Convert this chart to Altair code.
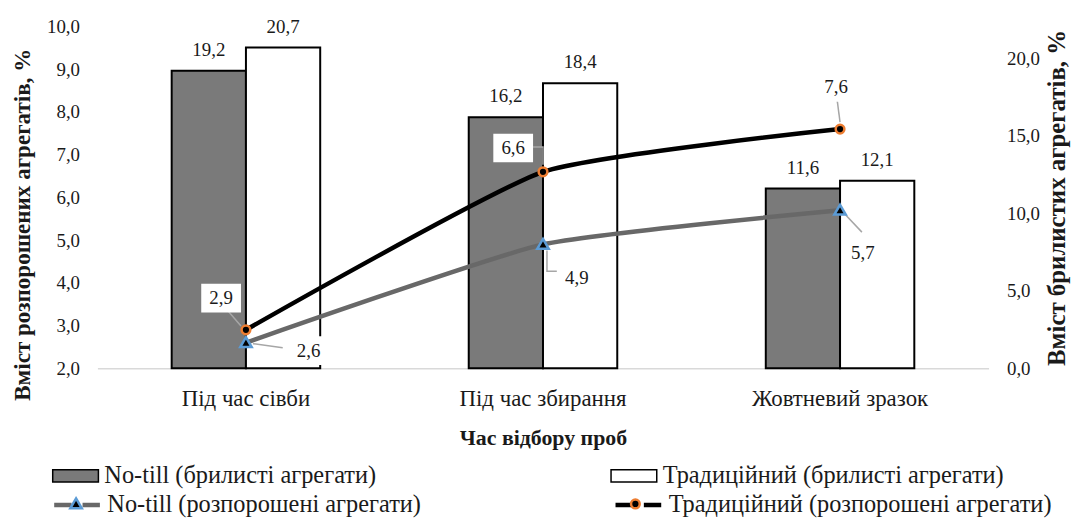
import altair as alt
import pandas as pd

# ---------------- data ----------------
categories = ["Під час сівби", "Під час збирання", "Жовтневий зразок"]
bar_series = ["No-till (брилисті агрегати)", "Традиційний (брилисті агрегати)"]
notill_clod = [19.2, 16.2, 11.6]
trad_clod = [20.7, 18.4, 12.1]
line_series = ["No-till (розпорошені агрегати)", "Традиційний (розпорошені агрегати)"]
notill_dust = [2.6, 4.9, 5.7]
trad_dust = [2.9, 6.6, 7.6]

left_ticks = [2, 3, 4, 5, 6, 7, 8, 9, 10]
right_ticks = [0, 5, 10, 15, 20]

# ---------------- layout (label placement offsets in px) ----------------
lbl_off = {
    line_series[0]: [(63, 8), (34, 34), (23, 43)],
    line_series[1]: [(-25, -32), (-30, -24), (-4, -42)],
}
leader_off = {
    line_series[0]: [[(7, 1), (37, 5)], [(4, 6), (4, 27), (14, 27)], [(5, 4), (22, 22)]],
    line_series[1]: [[(-18, -19), (-5, -4)], [(-10, -25), (0, -25), (0, -7)], [(-3, -30), (0, -7)]],
}

FONT = "Liberation Serif, Times New Roman, Liberation Sans, sans-serif"
TXT = "#1a1a1a"
ZW = "\u200b"

bars_df = pd.DataFrame(
    [{"cat": c, "series": bar_series[0], "value": v} for c, v in zip(categories, notill_clod)]
    + [{"cat": c, "series": bar_series[1], "value": v} for c, v in zip(categories, trad_clod)]
)
lines_df = pd.DataFrame(
    [{"cat": c, "series": line_series[0], "value": v} for c, v in zip(categories, notill_dust)]
    + [{"cat": c, "series": line_series[1], "value": v} for c, v in zip(categories, trad_dust)]
)
lines_df["series2"] = lines_df["series"] + ZW

lab_rows, lead_rows = [], []
for s, vals in zip(line_series, [notill_dust, trad_dust]):
    for i, (c, v) in enumerate(zip(categories, vals)):
        dx, dy = lbl_off[s][i]
        lab_rows.append({"cat": c, "series": s, "value": v, "dx": dx, "dy": dy})
        for k, (ox, oy) in enumerate(leader_off[s][i]):
            lead_rows.append({"cat": c, "series": s, "value": v, "lid": f"{s}-{i}", "k": k, "ox": ox, "oy": oy})
labels_df = pd.DataFrame(lab_rows)
leaders_df = pd.DataFrame(lead_rows)

fmt = "replace(format(datum.value, '.1f'), '.', ',')"

x_scale = alt.Scale(domain=categories, paddingInner=0, paddingOuter=0)
x_axis = alt.Axis(
    title="Час відбору проб", labelAngle=0, labelFont=FONT, labelFontSize=23, labelColor=TXT,
    labelPadding=19, ticks=False, tickSize=0, domainColor="#d9d9d9", domainWidth=1.5, grid=False,
    titleFont=FONT, titleFontSize=22, titleFontWeight="bold", titleColor=TXT,
    titleY=70, titleBaseline="middle",
)
x_enc = alt.X("cat:N", sort=categories, scale=x_scale, axis=x_axis)

yR_scale = alt.Scale(domain=[0, 22.05], nice=False, zero=True)
yL_scale = alt.Scale(domain=[2, 10], nice=False, zero=False)
xo_scale = alt.Scale(domain=bar_series, paddingInner=0, paddingOuter=1)

right_axis = alt.Axis(
    orient="right", values=right_ticks, labelExpr=fmt, domain=False, ticks=False, grid=False,
    labelFont=FONT, labelFontSize=19, labelColor=TXT, labelPadding=18,
    title="Вміст брилистих агрегатів, %", titleFont=FONT, titleFontSize=25, titleFontWeight="bold",
    titleColor=TXT, titleAngle=270, titleX=68, titleY=172, titleAlign="center", titleBaseline="middle",
)
left_axis = alt.Axis(
    orient="left", values=left_ticks, labelExpr=fmt, domain=False, ticks=False, grid=False,
    labelFont=FONT, labelFontSize=19, labelColor=TXT, labelPadding=18,
    title="Вміст розпорошених агрегатів, %", titleFont=FONT, titleFontSize=23.2, titleFontWeight="bold",
    titleColor=TXT, titleAngle=270, titleX=-75, titleY=199, titleAlign="center", titleBaseline="middle",
)

leg_common = dict(
    orient="none", direction="horizontal", title=None, padding=0,
    labelFont=FONT, labelFontSize=24.5, labelColor=TXT, labelLimit=800, labelOffset=5,
    symbolSize=2116,
)
legend_bars = alt.Legend(legendX=-46, legendY=428, columnPadding=233,
                         symbolType="M-1,-0.27H1V0.27H-1Z", symbolStrokeWidth=1.5, **leg_common)
legend_lines = alt.Legend(legendX=-46, legendY=456, columnPadding=186,
                          symbolType="M-1,0H-0.24M0.24,0H1", symbolStrokeWidth=4.5, **leg_common)
legend_marks = alt.Legend(legendX=-46, legendY=456, columnPadding=509, labelExpr="''",
                          symbolStrokeWidth=2.5, **leg_common)

tri = "M0,-0.24L0.25,0.19L-0.25,0.19Z"
circ = "M-0.19,0A0.19,0.19,0,1,0,0.19,0A0.19,0.19,0,1,0,-0.19,0Z"

# ---------------- bars (right axis) ----------------
bars = alt.Chart(bars_df).mark_bar(stroke="black", strokeWidth=2).encode(
    x=x_enc,
    xOffset=alt.XOffset("series:N", sort=bar_series, scale=xo_scale),
    y=alt.Y("value:Q", scale=yR_scale, axis=right_axis),
    fill=alt.Fill("series:N", scale=alt.Scale(domain=bar_series, range=["#7a7a7a", "#ffffff"]),
                  legend=legend_bars),
)
bar_text = alt.Chart(bars_df).transform_calculate(label=fmt).mark_text(
    font=FONT, fontSize=19, color=TXT, dy=-21, baseline="middle"
).encode(
    x=x_enc,
    xOffset=alt.XOffset("series:N", sort=bar_series, scale=xo_scale),
    y=alt.Y("value:Q", scale=yR_scale, axis=None),
    text="label:N",
)

# ---------------- lines (left axis) ----------------
lines = alt.Chart(lines_df).mark_line(strokeWidth=4.5, interpolate="cardinal", tension=0.5).encode(
    x=x_enc,
    y=alt.Y("value:Q", scale=yL_scale, axis=left_axis),
    stroke=alt.Stroke("series:N", scale=alt.Scale(domain=line_series, range=["#686868", "#000000"]),
                      legend=legend_lines),
)
leaders = alt.Chart(leaders_df).mark_line(
    strokeWidth=1.5, color="#a6a6a6",
    xOffset=alt.ExprRef(expr="datum.ox"), yOffset=alt.ExprRef(expr="datum.oy"),
).encode(
    x=x_enc,
    y=alt.Y("value:Q", scale=yL_scale, axis=None),
    detail="lid:N",
    order="k:O",
)
dom2 = [s + ZW for s in line_series]
points = alt.Chart(lines_df).mark_point(size=2116, filled=False, fill="black", strokeWidth=2.5, opacity=1).encode(
    x=x_enc,
    y=alt.Y("value:Q", scale=yL_scale, axis=None),
    color=alt.Color("series2:N", scale=alt.Scale(domain=dom2, range=["#5b9bd5", "#ed7d31"]),
                    legend=legend_marks),
    shape=alt.Shape("series2:N", scale=alt.Scale(domain=dom2, range=[tri, circ]),
                    legend=legend_marks),
)
boxes = alt.Chart(labels_df).mark_point(
    shape="M-1,-0.72H1V0.72H-1Z", size=1600, filled=True, color="white", opacity=1,
    xOffset=alt.ExprRef(expr="datum.dx"), yOffset=alt.ExprRef(expr="datum.dy"),
).encode(
    x=x_enc,
    y=alt.Y("value:Q", scale=yL_scale, axis=None),
)
line_text = alt.Chart(labels_df).transform_calculate(label=fmt).mark_text(
    font=FONT, fontSize=19, color=TXT, baseline="middle",
    dx=alt.ExprRef(expr="datum.dx"), dy=alt.ExprRef(expr="datum.dy"),
).encode(
    x=x_enc,
    y=alt.Y("value:Q", scale=yL_scale, axis=None),
    text="label:N",
)

chart = alt.layer(
    bars, bar_text, lines, leaders, points, boxes, line_text
).resolve_scale(y="independent").properties(
    width=897, height=344,
    autosize=alt.AutoSizeParams(type="none"),
    padding={"left": 90, "top": 17, "right": 88, "bottom": 153},
    background="white",
).configure_view(stroke=None)

chart.save("out.html", embed_options={"renderer": "svg", "actions": False})
